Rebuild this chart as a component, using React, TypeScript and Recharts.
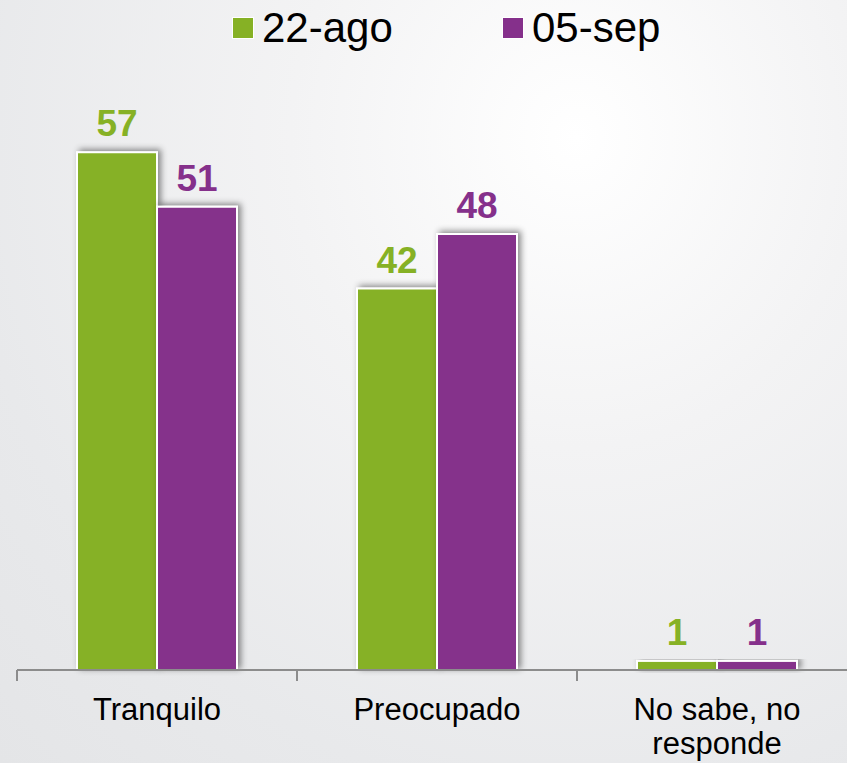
import React from 'react';
import { BarChart, Bar, XAxis, YAxis, LabelList } from 'recharts';

const categories = ['Tranquilo', 'Preocupado', 'No sabe, no\nresponde'];
const ago22 = [57, 42, 1];
const sep05 = [51, 48, 1];
const seriesNames = ['22-ago', '05-sep'];

const GREEN = '#86B125';
const PURPLE = '#85308B';
const FONT = '"Liberation Sans", Arial, sans-serif';
const BAND = 280;

const data = categories.map((name, i) => ({ name, a: ago22[i], b: sep05[i] }));

const ShadowBar = (props: any) => {
  const { x, y, width, height, fill } = props;
  if (!height || height <= 0) return null;
  return (
    <rect
      x={x}
      y={y}
      width={width}
      height={height}
      fill={fill}
      stroke="#ffffff"
      strokeWidth={2}
      filter="url(#barShadow)"
    />
  );
};

const CategoryTick = (props: any) => {
  const { x, y, payload } = props;
  const lines = String(payload.value).split('\n');
  return (
    <g>
      <line x1={x - BAND / 2} y1={y} x2={x - BAND / 2} y2={y + 11} stroke="#8c8c8c" strokeWidth={2} />
      <line x1={x + BAND / 2} y1={y} x2={x + BAND / 2} y2={y + 11} stroke="#8c8c8c" strokeWidth={2} />
      <text x={x} y={y + 50} textAnchor="middle" fontSize={31} fontFamily={FONT} fill="#000">
        {lines.map((ln, i) => (
          <tspan key={i} x={x} dy={i === 0 ? 0 : 34}>
            {ln}
          </tspan>
        ))}
      </text>
    </g>
  );
};

const LegendItem = ({ color, label, left }: { color: string; label: string; left: number }) => (
  <div style={{ position: 'absolute', left, top: 3, display: 'flex', alignItems: 'center' }}>
    <div style={{ width: 20, height: 20, background: color, border: '1px solid #fff', marginRight: 8 }} />
    <span style={{ fontSize: 42, fontFamily: FONT, color: '#000', lineHeight: '50px' }}>{label}</span>
  </div>
);

export default function App() {
  return (
    <div
      style={{
        position: 'relative',
        width: 847,
        height: 763,
        overflow: 'hidden',
        background: 'radial-gradient(ellipse at 68% 18%, #ffffff 0%, #f3f3f4 35%, #e8e9eb 75%, #e4e5e7 100%)',
      }}
    >
      <style>{`body{margin:0}`}</style>
      <LegendItem color={GREEN} label={seriesNames[0]} left={232} />
      <LegendItem color={PURPLE} label={seriesNames[1]} left={502} />
      <BarChart
        width={857}
        height={763}
        data={data}
        margin={{ top: 125, right: 0, bottom: 0, left: 17 }}
        barGap={0}
        barSize={80}
        style={{ position: 'absolute', left: 0, top: 0 }}
      >
        <defs>
          <filter id="barShadow" x="-20%" y="-20%" width="150%" height="150%">
            <feDropShadow dx={3} dy={-2} stdDeviation={3} floodColor="#000" floodOpacity={0.45} />
          </filter>
        </defs>
        <XAxis
          dataKey="name"
          height={93}
          axisLine={{ stroke: '#8c8c8c', strokeWidth: 2 }}
          tickLine={false}
          tickSize={0}
          tickMargin={0}
          interval={0}
          tick={<CategoryTick />}
        />
        <YAxis hide domain={[0, 60]} />
        <Bar dataKey="a" name={seriesNames[0]} fill={GREEN} shape={<ShadowBar />} isAnimationActive={false}>
          <LabelList
            dataKey="a"
            position="top"
            offset={16}
            fill={GREEN}
            fontSize={37}
            fontWeight="bold"
            fontFamily={FONT}
          />
        </Bar>
        <Bar dataKey="b" name={seriesNames[1]} fill={PURPLE} shape={<ShadowBar />} isAnimationActive={false}>
          <LabelList
            dataKey="b"
            position="top"
            offset={16}
            fill={PURPLE}
            fontSize={37}
            fontWeight="bold"
            fontFamily={FONT}
          />
        </Bar>
      </BarChart>
    </div>
  );
}
